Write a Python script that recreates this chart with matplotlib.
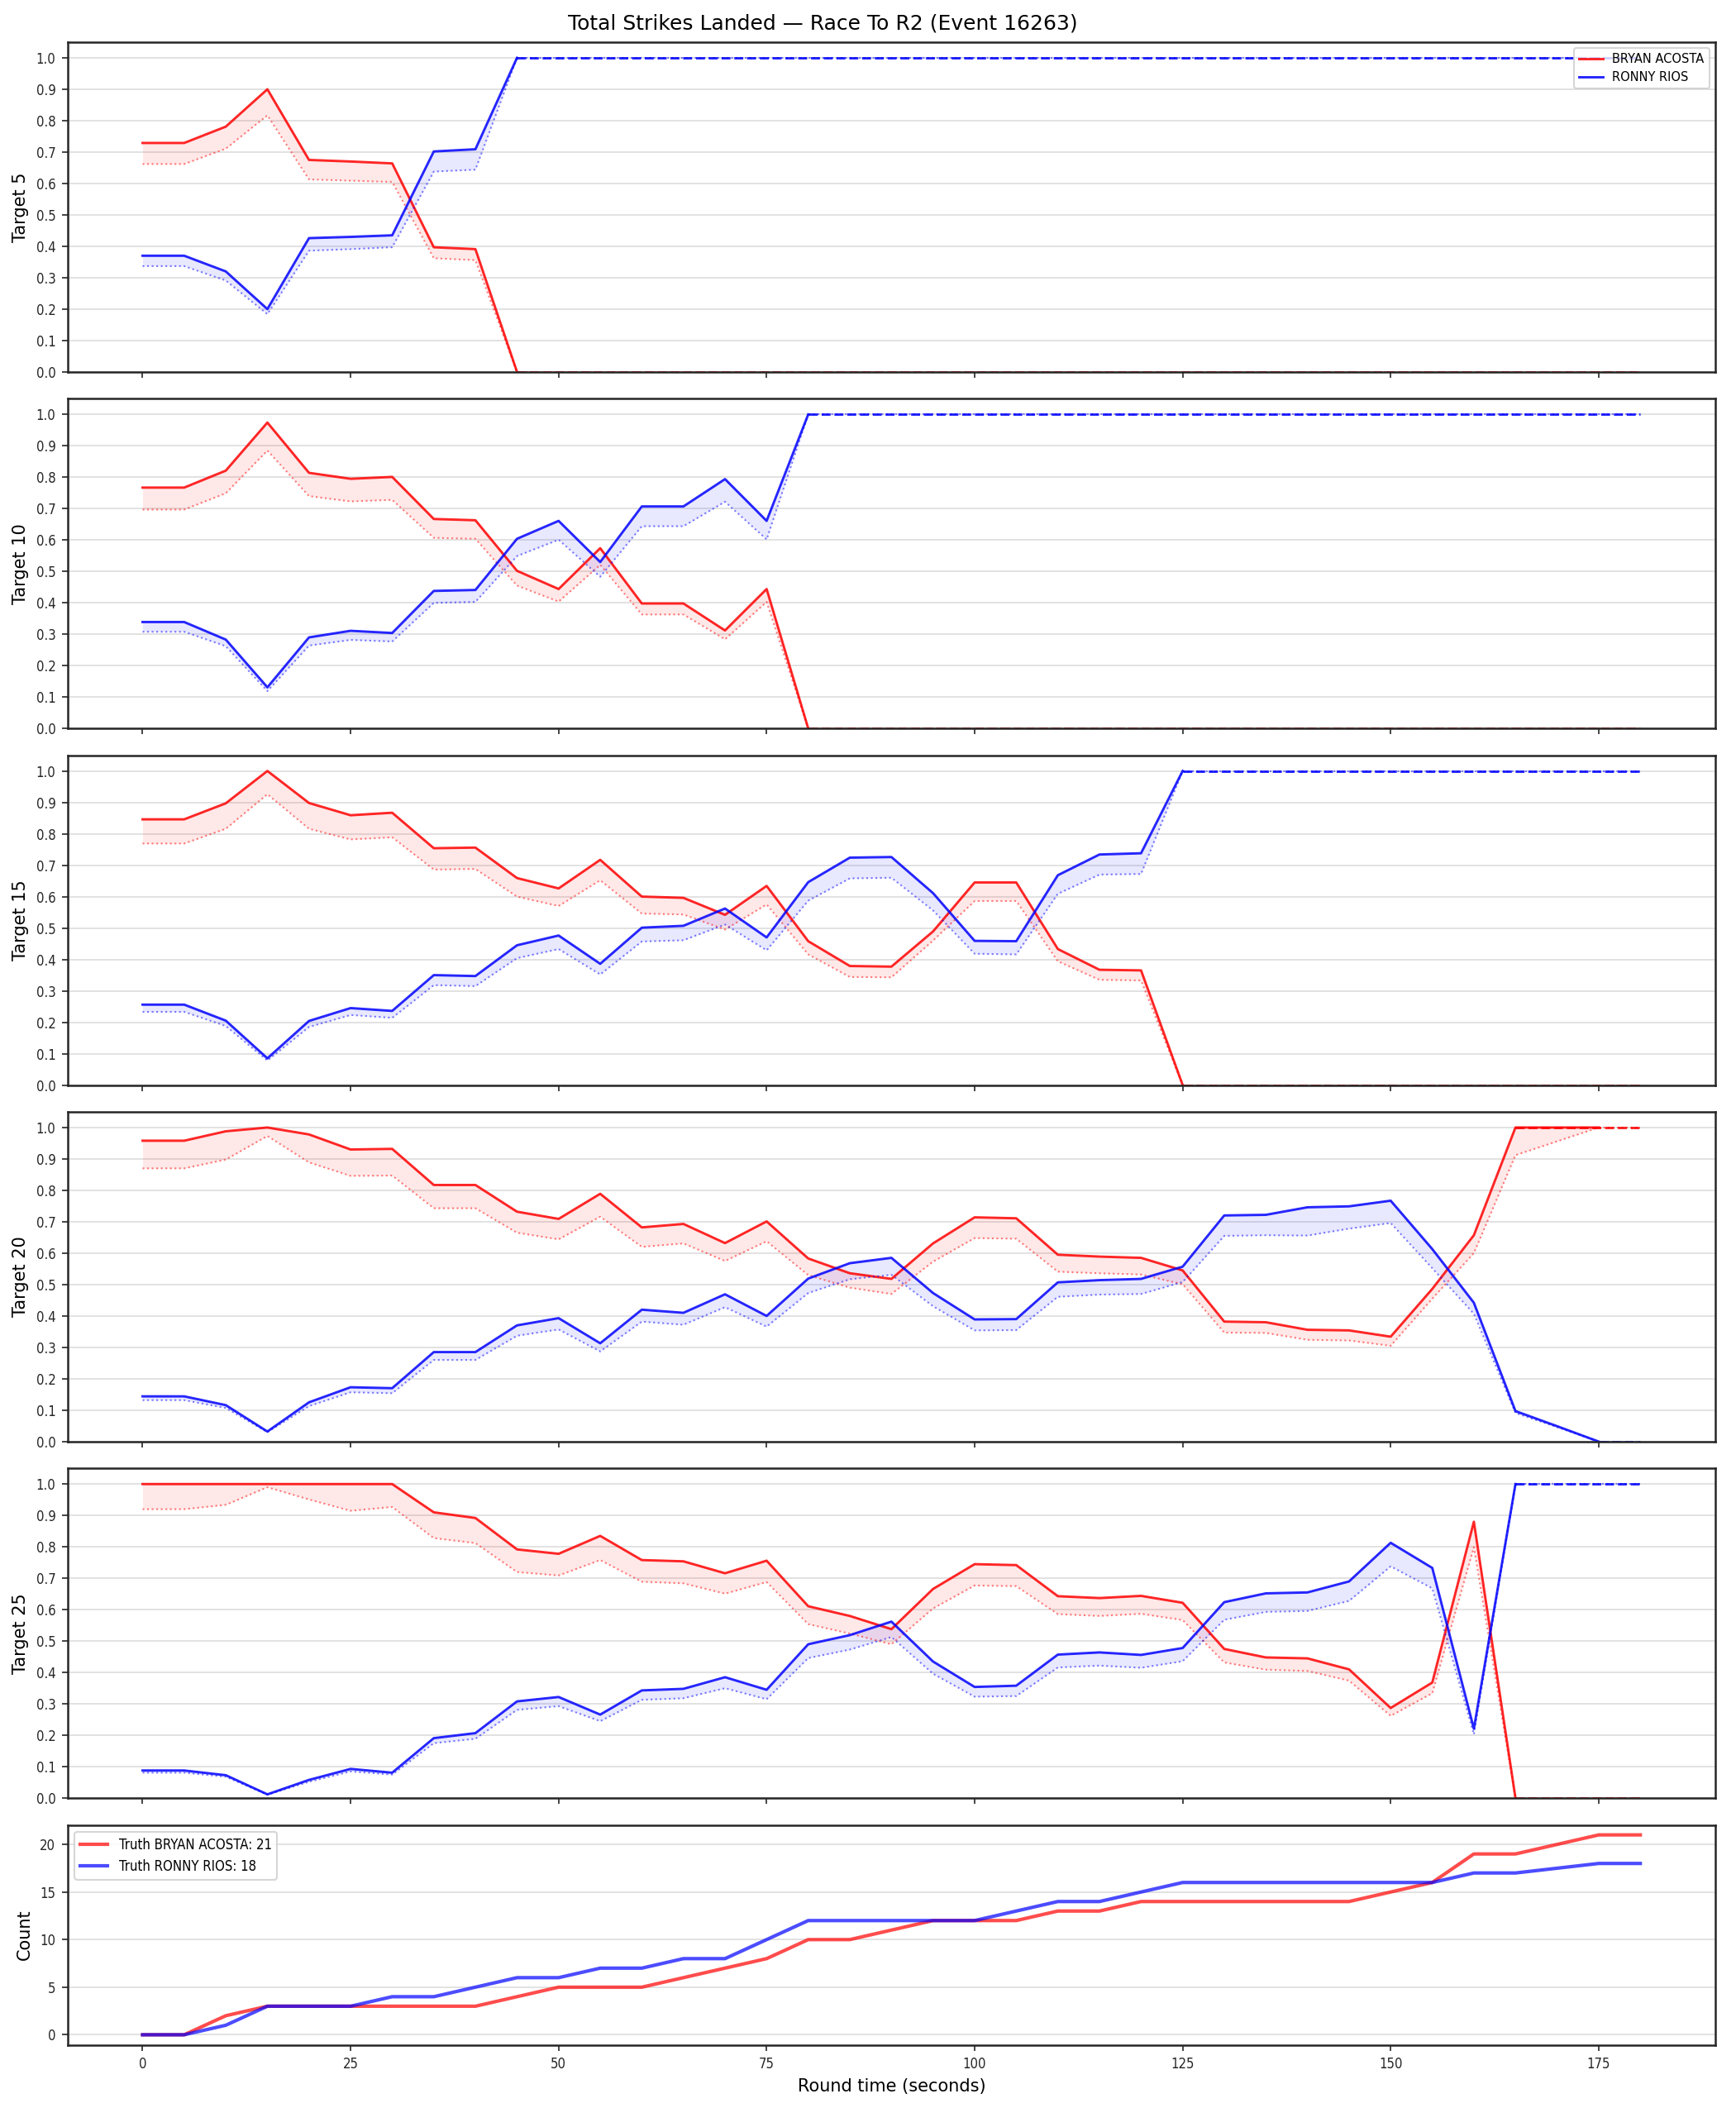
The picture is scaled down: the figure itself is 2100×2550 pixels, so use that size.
import numpy as np
import matplotlib
matplotlib.use("Agg")
import matplotlib.pyplot as plt
from matplotlib import font_manager as fm

# round time grid (seconds)
t = np.arange(0, 181, 5)
t_end = 180

fighter_red = "BRYAN ACOSTA"
fighter_blue = "RONNY RIOS"
targets = [5, 10, 15, 20, 25]

# probability (solid) and lower band (dotted) for each target
red5 = [0.729, 0.729, 0.781, 0.900, 0.675, 0.670, 0.664, 0.397, 0.391, 0.0]
red5_lo = [0.662, 0.662, 0.711, 0.817, 0.613, 0.609, 0.605, 0.362, 0.356, 0.0]
blue5 = [0.370, 0.370, 0.320, 0.200, 0.426, 0.430, 0.435, 0.702, 0.709, 1.0]
blue5_lo = [0.337, 0.337, 0.291, 0.184, 0.386, 0.391, 0.397, 0.638, 0.644, 1.0]

red10 = [0.767, 0.767, 0.821, 0.974, 0.814, 0.795, 0.801, 0.667, 0.663, 0.502, 0.444,
         0.574, 0.398, 0.398, 0.312, 0.444, 0.0]
red10_lo = [0.697, 0.697, 0.749, 0.885, 0.740, 0.723, 0.728, 0.607, 0.604, 0.455, 0.404,
            0.521, 0.363, 0.363, 0.284, 0.403, 0.0]
blue10 = [0.339, 0.339, 0.283, 0.131, 0.290, 0.311, 0.304, 0.438, 0.441, 0.604, 0.661,
          0.530, 0.707, 0.707, 0.794, 0.661, 1.0]
blue10_lo = [0.308, 0.308, 0.262, 0.119, 0.264, 0.282, 0.277, 0.400, 0.403, 0.549, 0.601,
             0.483, 0.644, 0.644, 0.722, 0.602, 1.0]

red15 = [0.846, 0.846, 0.897, 1.0, 0.898, 0.859, 0.867, 0.754, 0.756, 0.659, 0.626, 0.717,
         0.600, 0.596, 0.542, 0.634, 0.458, 0.379, 0.377, 0.489, 0.645, 0.645, 0.433, 0.367,
         0.365, 0.0]
red15_lo = [0.769, 0.769, 0.816, 0.926, 0.816, 0.782, 0.789, 0.686, 0.688, 0.600, 0.570, 0.652,
            0.546, 0.543, 0.495, 0.575, 0.416, 0.344, 0.343, 0.460, 0.586, 0.586, 0.394, 0.335,
            0.333, 0.0]
blue15 = [0.256, 0.256, 0.205, 0.085, 0.204, 0.245, 0.236, 0.350, 0.347, 0.445, 0.476, 0.386,
          0.501, 0.507, 0.562, 0.470, 0.646, 0.724, 0.726, 0.611, 0.459, 0.458, 0.668, 0.734,
          0.738, 1.0]
blue15_lo = [0.233, 0.233, 0.188, 0.078, 0.185, 0.223, 0.214, 0.318, 0.315, 0.404, 0.433, 0.352,
             0.457, 0.461, 0.511, 0.429, 0.587, 0.658, 0.660, 0.556, 0.418, 0.416, 0.609, 0.670,
             0.672, 1.0]

red20 = [0.958, 0.958, 0.988, 1.0, 0.978, 0.930, 0.932, 0.817, 0.817, 0.732, 0.709, 0.789,
         0.682, 0.693, 0.632, 0.701, 0.583, 0.536, 0.518, 0.631, 0.714, 0.711, 0.595, 0.589,
         0.585, 0.545, 0.382, 0.380, 0.356, 0.354, 0.334, 0.486, 0.657, 1.0, 1.0, 1.0]
red20_lo = [0.870, 0.870, 0.898, 0.973, 0.889, 0.846, 0.847, 0.743, 0.743, 0.665, 0.644, 0.716,
            0.620, 0.631, 0.575, 0.638, 0.530, 0.490, 0.470, 0.573, 0.648, 0.646, 0.541, 0.536,
            0.532, 0.501, 0.347, 0.346, 0.324, 0.322, 0.305, 0.455, 0.600, 0.912, 0.956, 1.0]
blue20 = [0.144, 0.144, 0.116, 0.032, 0.125, 0.173, 0.170, 0.285, 0.285, 0.370, 0.393, 0.313,
          0.420, 0.410, 0.469, 0.400, 0.519, 0.568, 0.585, 0.473, 0.389, 0.390, 0.507, 0.514,
          0.518, 0.557, 0.720, 0.722, 0.746, 0.749, 0.767, 0.613, 0.442, 0.097, 0.049, 0.0]
blue20_lo = [0.132, 0.132, 0.107, 0.030, 0.113, 0.157, 0.154, 0.260, 0.260, 0.337, 0.357, 0.287,
             0.382, 0.372, 0.428, 0.366, 0.473, 0.517, 0.531, 0.431, 0.354, 0.355, 0.461, 0.468,
             0.470, 0.508, 0.655, 0.657, 0.656, 0.678, 0.696, 0.552, 0.407, 0.091, 0.046, 0.0]

red25 = [1.0, 1.0, 1.0, 1.0, 1.0, 1.0, 1.0, 0.910, 0.892, 0.792, 0.778, 0.835, 0.758, 0.754,
         0.716, 0.756, 0.611, 0.580, 0.538, 0.666, 0.745, 0.742, 0.643, 0.637, 0.644, 0.622,
         0.475, 0.448, 0.445, 0.410, 0.287, 0.368, 0.880, 0.0]
red25_lo = [0.920, 0.920, 0.934, 0.990, 0.951, 0.915, 0.927, 0.828, 0.812, 0.720, 0.709, 0.758,
            0.689, 0.684, 0.651, 0.688, 0.554, 0.524, 0.490, 0.604, 0.677, 0.675, 0.586, 0.580,
            0.587, 0.567, 0.432, 0.409, 0.405, 0.374, 0.262, 0.334, 0.799, 0.0]
blue25 = [0.088, 0.088, 0.073, 0.012, 0.058, 0.093, 0.081, 0.191, 0.207, 0.308, 0.322, 0.266,
          0.343, 0.348, 0.385, 0.345, 0.490, 0.519, 0.562, 0.435, 0.354, 0.358, 0.457, 0.464,
          0.456, 0.478, 0.624, 0.652, 0.655, 0.690, 0.813, 0.733, 0.221, 1.0]
blue25_lo = [0.081, 0.081, 0.068, 0.011, 0.052, 0.085, 0.075, 0.175, 0.189, 0.281, 0.293, 0.245,
             0.313, 0.318, 0.350, 0.315, 0.446, 0.473, 0.513, 0.396, 0.323, 0.325, 0.416, 0.422,
             0.415, 0.436, 0.568, 0.593, 0.596, 0.628, 0.738, 0.668, 0.203, 1.0]

# truth cumulative counts
truth_red = [0, 0, 2, 3, 3, 3, 3, 3, 3, 4, 5, 5, 5, 6, 7, 8, 10, 10, 11, 12, 12, 12, 13, 13,
             14, 14, 14, 14, 14, 14, 15, 16, 19, 19, 20, 21, 21]
truth_blue = [0, 0, 1, 3, 3, 3, 4, 4, 5, 6, 6, 7, 7, 8, 8, 10, 12, 12, 12, 12, 12, 13, 14, 14,
              15, 16, 16, 16, 16, 16, 16, 16, 17, 17, 17.5, 18, 18]

panels = [
    (red5, red5_lo, blue5, blue5_lo),
    (red10, red10_lo, blue10, blue10_lo),
    (red15, red15_lo, blue15, blue15_lo),
    (red20, red20_lo, blue20, blue20_lo),
    (red25, red25_lo, blue25, blue25_lo),
]

# narrow font for tick labels / truth legend, whatever is installed
names = {f.name for f in fm.fontManager.ttflist}
cond = [f for f in fm.fontManager.ttflist
        if f.name == "DejaVu Sans" and "condensed" in str(f.stretch)]
if "Liberation Sans Narrow" in names:
    tick_font = dict(family="Liberation Sans Narrow", size=9)
elif cond:
    tick_font = dict(family="DejaVu Sans", stretch="condensed", size=8)
else:
    tick_font = dict(family="Liberation Sans", size=8)


def terminal_start(vals):
    # index where the final run of 0/1 values begins
    v = np.asarray(vals)
    last = v[-1]
    i = len(v) - 1
    while i > 0 and v[i - 1] == last:
        i -= 1
    return i


def draw_series(ax, vals, lo, color, label):
    n = len(vals)
    x = t[:n]
    ax.plot(x, vals, color=color, lw=1.4, alpha=0.85, label=label)
    ax.plot(x, lo, color=color, lw=1.0, ls=":", alpha=0.5)
    ax.fill_between(x, lo, vals, color=color, alpha=0.09, lw=0)
    k = terminal_start(vals)
    ax.plot([t[k], t_end], [vals[-1], vals[-1]], color=color, lw=1.4, ls="--", alpha=0.85)
    ax.plot([t[n - 1], t_end], [lo[-1], lo[-1]], color=color, lw=1.0, ls=":", alpha=0.5)


fig = plt.figure(figsize=(14, 17), dpi=150)
gs = fig.add_gridspec(6, 1, height_ratios=[3, 3, 3, 3, 3, 2],
                      left=0.039, right=0.988, top=0.980, bottom=0.030, hspace=0.086)
axes = [fig.add_subplot(gs[0])]
for i in range(1, 6):
    axes.append(fig.add_subplot(gs[i], sharex=axes[0]))

for ax, tg, (r, rlo, b, blo) in zip(axes[:5], targets, panels):
    draw_series(ax, r, rlo, "red", fighter_red)
    draw_series(ax, b, blo, "blue", fighter_blue)
    ax.set_ylim(0, 1.05)
    ax.set_yticks(np.arange(0, 1.01, 0.1))
    ax.set_ylabel(f"Target {tg}", fontsize=10)

fig.suptitle("Total Strikes Landed — Race To R2 (Event 16263)", fontsize=12,
             x=0.474, y=0.9935, va="top")
axes[0].legend(loc="upper right", fontsize=7)

ax = axes[5]
ax.plot(t, truth_red, color="red", lw=2.0, alpha=0.7,
        label=f"Truth {fighter_red}: {truth_red[-1]}")
ax.plot(t, truth_blue, color="blue", lw=2.0, alpha=0.7,
        label=f"Truth {fighter_blue}: {int(truth_blue[-1])}")
ax.set_ylabel("Count", fontsize=10)
ax.set_xlabel("Round time (seconds)", fontsize=10)
ax.set_xticks(np.arange(0, 176, 25))
leg = ax.legend(loc="upper left", prop=tick_font)

for i, ax in enumerate(axes):
    ax.grid(axis="y", color="#dddddd", lw=0.8)
    ax.set_axisbelow(True)
    for s in ax.spines.values():
        s.set_color("#262626")
        s.set_linewidth(1.2)
    ax.tick_params(colors="#262626")
    for lab in ax.get_yticklabels() + ax.get_xticklabels():
        lab.set_fontproperties(fm.FontProperties(**tick_font))
    if i < 5:
        ax.tick_params(labelbottom=False)

fig.savefig("out.png", dpi=150)
